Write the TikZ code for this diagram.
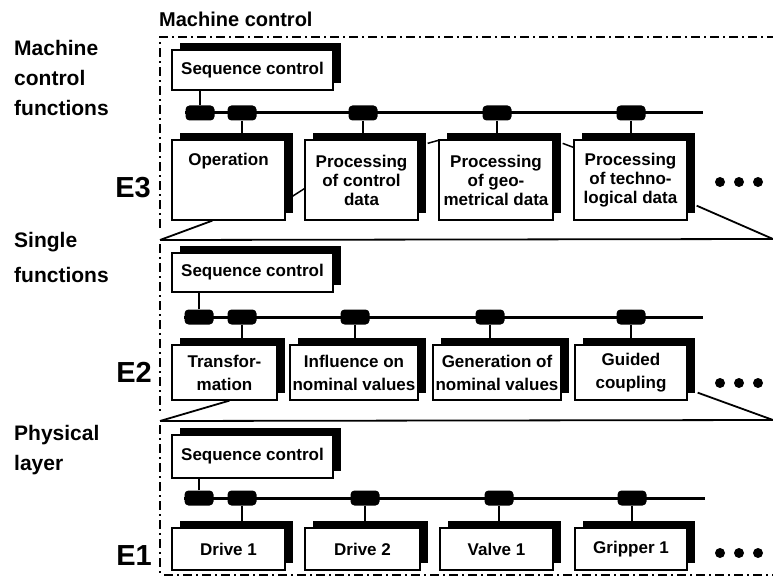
\documentclass[tikz,border=0pt]{standalone}
\usepackage{fontspec}
\setmainfont{Liberation Sans}
\usetikzlibrary{shadows}

\begin{document}
\begin{tikzpicture}[x=1pt,y=-1pt,
  unit box/.style={draw=black, line width=1.3pt, fill=white, inner sep=0pt, align=center,
    general shadow={fill=black, shadow xshift=8pt, shadow yshift=7pt}},
  lvl3/.style={unit box, font=\bfseries\fontsize{17}{19}\selectfont, minimum height=80pt},
  lvl2/.style={unit box, font=\bfseries\fontsize{17}{23}\selectfont, minimum height=55pt},
  lvl1/.style={unit box, font=\bfseries\fontsize{17}{19}\selectfont, minimum height=42pt},
  seqbox/.style={unit box, font=\bfseries\fontsize{17}{19}\selectfont, minimum width=161pt},
  tap/.style={fill=black, rounded corners=4pt, minimum width=29pt, minimum height=15pt, inner sep=0pt},
  bus/.style={line width=3pt},
  link/.style={line width=2.5pt},
  thinlink/.style={line width=1.5pt},
  frame/.style={line width=1.6pt, dash pattern=on 9pt off 4pt on 2pt off 4pt},
  funnel/.style={line width=1.8pt},
  layer label/.style={font=\bfseries\fontsize{21}{30}\selectfont, align=left, anchor=north west, inner sep=0pt},
  level tag/.style={font=\bfseries\fontsize{29}{29}\selectfont, inner sep=0pt},
  dot/.style={circle, fill=black, minimum size=10pt, inner sep=0pt}
]
\useasboundingbox (0,0) rectangle (773,577);

% ---- headings on the left ----
\node[layer label] (lbl3) at (14,40) {Machine\\control\\functions};
\node[layer label, font=\bfseries\fontsize{21}{35}\selectfont] (lbl2) at (14,232) {Single\\functions};
\node[layer label] (lbl1) at (14,425) {Physical\\layer};
\node[layer label, font=\bfseries\fontsize{20}{20}\selectfont] (title) at (159,12) {Machine control};

\node[level tag] (e3) at (133,188) {E3};
\node[level tag] (e2) at (134,372) {E2};
\node[level tag] (e1) at (134,556) {E1};

% ---- level E3 ----
\draw[frame] (160,228) -- (160,37) -- (773,37);

\node[seqbox, minimum height=40pt] (seq3) at (252.5,70) {Sequence control};
\node[lvl3, minimum width=113pt] (op3) at (228.5,180) {Operation\\\phantom{g}\\\phantom{g}};
\node[lvl3, minimum width=113pt] (pc3) at (361.5,180) {Processing\\of control\\data};
\node[lvl3, minimum width=114pt] (pg3) at (496,180) {Processing\\of geo-\\metrical data};
\node[lvl3, minimum width=113pt] (pt3) at (630.5,180) {Processing\\of techno-\\logical data};

\coordinate (bus3end) at (703,113);
\node[tap] (t31) at (200,113) {};
\draw[bus] (t31.west) -- (bus3end);
\node[tap] (t32) at (242,113) {};
\node[tap] (t33) at (363,113) {};
\node[tap] (t34) at (497,113) {};
\node[tap] (t35) at (631,113) {};
\draw[link] (t31.north) -- (t31.north |- seq3.south);
\draw[link] (t32.south) -- (t32.south |- op3.north);
\draw[link] (t33.south) -- (t33.south |- pc3.north);
\draw[link] (t34.south) -- (t34.south |- pg3.north);
\draw[link] (t35.south) -- (t35.south |- pt3.north);

% short ties between neighbouring units
\draw[thinlink] ([yshift=20pt]op3.south east) -- ([yshift=32pt]pc3.south west);
\draw[thinlink] ([xshift=9pt,yshift=-4pt]pc3.north east) -- ([yshift=-1pt]pg3.north west);
\draw[thinlink] ([xshift=9pt,yshift=-4pt]pg3.north east) -- ([yshift=-8pt]pt3.north west);

\node[dot] (d31) at (720,182) {};
\node[dot] (d32) at (739,182) {};
\node[dot] (d33) at (758,182) {};

% ---- funnel E3 -> E2 and frame of E2 ----
\coordinate (f2nw) at (160,240);
\coordinate (f2ne) at (773,239);
\draw[funnel] ([xshift=41pt]op3.south west) -- (f2nw);
\draw[funnel, rounded corners=3pt] (f2nw) -- (f2ne);
\draw[funnel] ([xshift=9pt,yshift=15pt]pt3.south east) -- (f2ne);
\draw[frame] (160,244) -- (160,412);

% ---- level E2 ----
\node[seqbox, minimum height=39pt] (seq2) at (252.5,272.5) {Sequence control};
\node[lvl2, minimum width=105pt] (tr2) at (224.5,372.5) {Transfor-\\mation};
\node[lvl2, minimum width=128pt] (in2) at (354,372.5) {Influence on\\nominal values};
\node[lvl2, minimum width=128pt] (ge2) at (497,372.5) {Generation of\\nominal values};
\node[lvl2, minimum width=112pt] (gc2) at (631,372.5) {Guided\\coupling};

\coordinate (bus2end) at (703,317);
\node[tap] (t21) at (199,317) {};
\draw[bus] (t21.west) -- (bus2end);
\node[tap] (t22) at (242,317) {};
\node[tap] (t23) at (355,317) {};
\node[tap] (t24) at (490,317) {};
\node[tap] (t25) at (631,317) {};
\draw[link] (t21.north) -- (t21.north |- seq2.south);
\draw[link] (t22.south) -- (t22.south |- tr2.north);
\draw[link] (t23.south) -- (t23.south |- in2.north);
\draw[link] (t24.south) -- (t24.south |- ge2.north);
\draw[link] (t25.south) -- (t25.south |- gc2.north);

\node[dot] (d21) at (720,383) {};
\node[dot] (d22) at (739,383) {};
\node[dot] (d23) at (758,383) {};

% ---- funnel E2 -> E1 and frame of E1 ----
\coordinate (f1nw) at (160,421);
\coordinate (f1ne) at (773,420);
\draw[funnel] ([xshift=58pt]tr2.south west) -- (f1nw);
\draw[funnel, rounded corners=3pt] (f1nw) -- (f1ne);
\draw[funnel] ([xshift=10pt,yshift=8pt]gc2.south east) -- (f1ne);
\draw[frame] (160,425) -- (160,577);
\draw[frame] (164,575) -- (773,575);

% ---- level E1 ----
\node[seqbox, minimum height=43pt] (seq1) at (252.5,456.5) {Sequence control};
\node[lvl1, minimum width=113pt] (dr1) at (228.5,549) {Drive 1};
\node[lvl1, minimum width=115pt] (dr2) at (362.5,549) {Drive 2};
\node[lvl1, minimum width=113pt] (va1) at (496.5,549) {Valve 1};
\node[lvl1, minimum width=112pt] (gr1) at (631,549) {Gripper 1};

\coordinate (bus1end) at (705,498);
\node[tap] (t11) at (199,498) {};
\draw[bus] (t11.west) -- (bus1end);
\node[tap] (t12) at (242,498) {};
\node[tap] (t13) at (365,498) {};
\node[tap] (t14) at (499,498) {};
\node[tap] (t15) at (632,498) {};
\draw[link] (t11.north) -- (t11.north |- seq1.south);
\draw[link] (t12.south) -- (t12.south |- dr1.north);
\draw[link] (t13.south) -- (t13.south |- dr2.north);
\draw[link] (t14.south) -- (t14.south |- va1.north);
\draw[link] (t15.south) -- (t15.south |- gr1.north);

\node[dot] (d11) at (720,553) {};
\node[dot] (d12) at (739,553) {};
\node[dot] (d13) at (758,553) {};
\end{tikzpicture}
\end{document}
